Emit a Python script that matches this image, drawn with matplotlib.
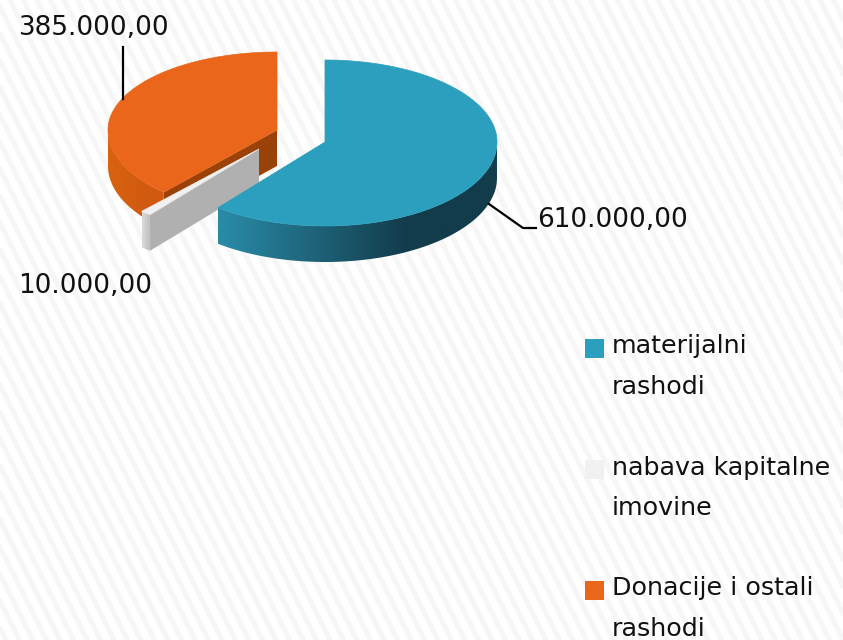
import numpy as np
import matplotlib
matplotlib.use("Agg")
import matplotlib.pyplot as plt
from matplotlib.patches import Polygon, Rectangle
from matplotlib.collections import LineCollection
from matplotlib.colors import to_rgb

categories = ["materijalni\nrashodi", "nabava kapitalne\nimovine", "Donacije i ostali\nrashodi"]
values = [610000, 10000, 385000]
value_labels = ["610.000,00", "10.000,00", "385.000,00"]
top_colors = ["#2c9fbe", "#f1f1f1", "#e9661b"]
wall_colors = ["#1c6a80", "#b0b0b0", "#9a4208"]
side_light = ["#2a8aa6", "#dcdcdc", "#d96210"]
side_dark = ["#123c4b", "#c4c4c4", "#d05a10"]
centers = [(325, 142), (259, 149), (277, 130)]
rx_list = [172, 175, 169]
ry_back = [82, 82, 78]
ry_front = [84, 84, 84]
DEPTH = 36

fig = plt.figure(figsize=(8.43, 6.40), dpi=100)
ax = fig.add_axes([0, 0, 1, 1])
ax.set_xlim(0, 843)
ax.set_ylim(640, 0)
ax.axis("off")

# striped page background
segs = [[(x, -10), (x + 330, 650)] for x in np.arange(-400, 860, 13.5)]
ax.add_collection(LineCollection(segs, colors="#f6f6f6", linewidths=3.6, zorder=0))

total = sum(values)
angles = np.cumsum([0] + values) / total * 2 * np.pi


def rim(i, t, d=0):
    c = centers[i]
    ry = np.where(np.cos(t) > 0, ry_back[i], ry_front[i])
    return np.column_stack([c[0] + rx_list[i] * np.sin(t), c[1] - ry * np.cos(t) + d])


def wall(i, a, z):
    c = centers[i]
    p = rim(i, np.array([a]))[0]
    ax.add_patch(Polygon([c, p, p + [0, DEPTH], (c[0], c[1] + DEPTH)],
                         fc=wall_colors[i], ec="none", zorder=z))


def draw_slice(i, z):
    c = centers[i]
    a0, a1 = angles[i], angles[i + 1]
    t = np.linspace(a0, a1, 300)
    if i in (1, 2):
        wall(i, a0, z)
    # outer side: only the part facing the viewer, with a gradient
    front = t[np.cos(t) <= 0.02]
    upper = rim(i, front)
    poly = np.vstack([upper, upper[::-1] + [0, DEPTH]])
    x0, x1 = upper[:, 0].min(), upper[:, 0].max()
    light, dark = np.array(to_rgb(side_light[i])), np.array(to_rgb(side_dark[i]))
    s = np.clip((np.linspace(0, 1, 256) - 0.02) / 0.65, 0, 1)[None, :, None]
    grad = light[None, None, :] + (dark - light)[None, None, :] * s
    im = ax.imshow(grad, extent=(x0, x1, upper[:, 1].max() + DEPTH + 2, upper[:, 1].min() - 2),
                   aspect="auto", zorder=z + 0.1, interpolation="bilinear")
    clip = Polygon(poly, transform=ax.transData, fc="none", ec="none")
    ax.add_patch(clip)
    im.set_clip_path(clip)
    # top surface
    top = np.vstack([[c], rim(i, t)])
    ax.add_patch(Polygon(top, fc=top_colors[i], ec=top_colors[i], lw=0.5, zorder=z + 0.2))


draw_slice(2, 2)
draw_slice(1, 3)
draw_slice(0, 4)
ax.plot([325, 325], [62, 140], color="#1c6a80", lw=0.8, alpha=0.7, zorder=3.9)
ax.set_xlim(0, 843)
ax.set_ylim(640, 0)

# leader lines
ax.plot([123, 123], [47, 99], color="black", lw=1.6, zorder=6)
ax.plot([489, 523, 536], [204, 228, 228], color="black", lw=1.6, zorder=6)

FS = 18.9
ax.text(18, 28.5, value_labels[2], fontsize=FS, color="#111111", va="center", ha="left")
ax.text(537, 219.5, value_labels[0], fontsize=FS, color="#111111", va="center", ha="left")
ax.text(18, 286.5, value_labels[1], fontsize=FS, color="#111111", va="center", ha="left")

# legend
leg_y = [348, 469, 590]
for cat, col, y in zip(categories, top_colors, leg_y):
    ax.add_patch(Rectangle((585, y - 9), 19, 19, fc=col, ec="none", zorder=5))
    l1, l2 = cat.split("\n")
    ax.text(612, y - 1.5, l1, fontsize=18.3, color="#111111", va="center", ha="left")
    ax.text(612, y + 39, l2, fontsize=18.3, color="#111111", va="center", ha="left")

fig.savefig("out.png", dpi=100)
